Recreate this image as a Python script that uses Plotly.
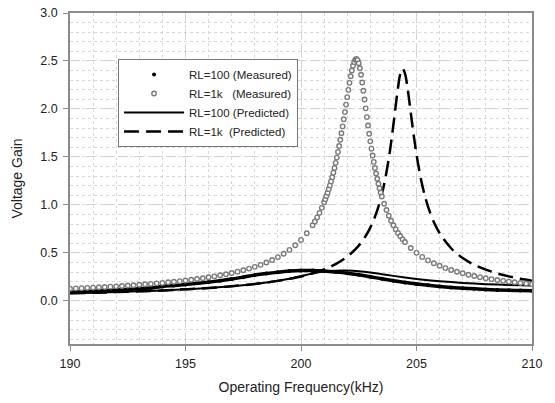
import plotly.graph_objects as go

# ---------------- data ----------------
# RL=1k measured (open gray circles)
f_1k_meas = [190.0, 190.25, 190.5, 190.75, 191.0, 191.25, 191.5, 191.75, 192.0, 192.25,
             192.5, 192.75, 193.0, 193.25, 193.5, 193.75, 194.0, 194.25, 194.5, 194.75,
             195.0, 195.25, 195.5, 195.75, 196.0, 196.25, 196.5, 196.75, 197.0, 197.25,
             197.5, 197.75, 198.0, 198.25, 198.5, 198.75, 199.0, 199.25, 199.5, 199.75,
             200.0, 200.25, 200.5, 200.6, 200.7, 200.8, 200.9, 201.0, 201.05, 201.1,
             201.15, 201.2, 201.25, 201.3, 201.35, 201.4, 201.45, 201.5, 201.55, 201.6,
             201.65, 201.7, 201.75, 201.8, 201.85, 201.9, 201.95, 202.0, 202.05, 202.1,
             202.15, 202.2, 202.25, 202.3, 202.35, 202.4, 202.45, 202.5, 202.55, 202.6,
             202.65, 202.7, 202.75, 202.8, 202.85, 202.9, 202.95, 203.0, 203.05, 203.1,
             203.15, 203.2, 203.25, 203.3, 203.35, 203.4, 203.45, 203.5, 203.6, 203.7,
             203.8, 203.9, 204.0, 204.1, 204.2, 204.3, 204.4, 204.5, 204.75, 205.0,
             205.25, 205.5, 205.75, 206.0, 206.25, 206.5, 206.75, 207.0, 207.25, 207.5,
             207.75, 208.0, 208.25, 208.5, 208.75, 209.0, 209.25, 209.5, 209.75, 210.0]
g_1k_meas = [0.127, 0.130, 0.132, 0.135, 0.138, 0.141, 0.144, 0.148, 0.151, 0.155,
             0.159, 0.163, 0.167, 0.172, 0.177, 0.182, 0.187, 0.193, 0.199, 0.205,
             0.212, 0.219, 0.227, 0.236, 0.245, 0.255, 0.266, 0.277, 0.290, 0.304,
             0.319, 0.336, 0.354, 0.375, 0.399, 0.425, 0.456, 0.491, 0.531, 0.579,
             0.635, 0.704, 0.788, 0.827, 0.870, 0.917, 0.969, 1.027, 1.059, 1.092,
             1.127, 1.164, 1.203, 1.245, 1.289, 1.336, 1.385, 1.438, 1.493, 1.552,
             1.613, 1.679, 1.747, 1.818, 1.892, 1.967, 2.045, 2.123, 2.199, 2.272,
             2.340, 2.400, 2.450, 2.488, 2.512, 2.520, 2.509, 2.476, 2.424, 2.356,
             2.276, 2.189, 2.098, 2.006, 1.915, 1.827, 1.742, 1.662, 1.586, 1.514,
             1.448, 1.385, 1.327, 1.272, 1.221, 1.174, 1.129, 1.088, 1.012, 0.946,
             0.887, 0.834, 0.788, 0.745, 0.707, 0.673, 0.641, 0.613, 0.551, 0.500,
             0.458, 0.422, 0.391, 0.365, 0.341, 0.321, 0.303, 0.287, 0.272, 0.259,
             0.247, 0.236, 0.226, 0.217, 0.208, 0.200, 0.193, 0.186, 0.180, 0.174]

# RL=1k predicted (dashed)
f_1k_pred = [190, 191, 192, 193, 194, 195, 196, 197, 198, 198.5, 199, 199.5, 200, 200.5,
             201, 201.5, 202, 202.5, 202.8, 203.0, 203.2, 203.4, 203.6, 203.8, 203.9,
             204.0, 204.1, 204.2, 204.3, 204.4, 204.5, 204.6, 204.7, 204.8, 204.9,
             205.0, 205.2, 205.4, 205.6, 205.8, 206.0, 206.5, 207, 207.5, 208, 208.5,
             209, 209.5, 210]
g_1k_pred = [0.078, 0.084, 0.091, 0.099, 0.108, 0.120, 0.134, 0.152, 0.175, 0.190,
             0.208, 0.229, 0.254, 0.287, 0.328, 0.383, 0.460, 0.575, 0.676, 0.763,
             0.875, 1.021, 1.216, 1.483, 1.649, 1.835, 2.034, 2.223, 2.366, 2.420,
             2.371, 2.239, 2.061, 1.871, 1.690, 1.527, 1.260, 1.061, 0.911, 0.796,
             0.706, 0.548, 0.446, 0.376, 0.325, 0.286, 0.255, 0.230, 0.210]

# RL=100 measured (black dots)
f_100_meas = [190, 190.5, 191, 191.5, 192, 192.5, 193, 193.5, 194, 194.5, 195, 195.5,
              196, 196.5, 197, 197.5, 198, 198.5, 199, 199.5, 200, 200.5, 201, 201.5,
              202, 202.5, 203, 203.5, 204, 204.5, 205, 205.5, 206, 206.5, 207, 207.5,
              208, 208.5, 209, 209.5, 210]
g_100_meas = [0.090, 0.095, 0.100, 0.106, 0.112, 0.119, 0.126, 0.134, 0.150, 0.160,
              0.170, 0.182, 0.195, 0.210, 0.227, 0.247, 0.268, 0.285, 0.299, 0.310,
              0.316, 0.316, 0.310, 0.300, 0.288, 0.271, 0.250, 0.230, 0.210, 0.190,
              0.175, 0.162, 0.150, 0.140, 0.132, 0.125, 0.119, 0.114, 0.110, 0.107,
              0.104]

# RL=100 predicted (solid)
f_100_pred = [190, 191, 192, 193, 194, 195, 196, 197, 198, 198.5, 199, 199.5, 200, 200.5,
              201, 201.5, 202, 202.5, 203, 203.5, 204, 204.5, 205, 205.5, 206, 206.5,
              207, 207.5, 208, 208.5, 209, 209.5, 210]
g_100_pred = [0.078, 0.084, 0.091, 0.099, 0.108, 0.120, 0.134, 0.152, 0.176, 0.191,
              0.209, 0.231, 0.257, 0.285, 0.305, 0.314, 0.315, 0.308, 0.295, 0.278,
              0.260, 0.243, 0.228, 0.215, 0.204, 0.195, 0.187, 0.180, 0.174, 0.169,
              0.165, 0.162, 0.160]

legend_names = ["RL=100 (Measured)", "RL=1k\u00a0\u00a0\u00a0(Measured)",
                "RL=100 (Predicted)", "RL=1k\u00a0\u00a0(Predicted)"]
x_ticks = [190, 195, 200, 205, 210]
y_ticks = [0.0, 0.5, 1.0, 1.5, 2.0, 2.5, 3.0]

# ---------------- figure ----------------
FONT = "Arial, 'Liberation Sans', sans-serif"
fig = go.Figure()

# measured RL=100 body (thick band of dense dots)
fig.add_trace(go.Scatter(x=f_100_meas, y=g_100_meas, mode="lines",
                         line=dict(color="black", width=3.5, shape="spline"),
                         showlegend=False, hoverinfo="skip"))
fig.add_trace(go.Scatter(x=f_100_meas, y=g_100_meas, mode="markers", name=legend_names[0],
                         marker=dict(color="black", size=4, symbol="circle")))
fig.add_trace(go.Scatter(x=f_100_pred, y=g_100_pred, mode="lines", name=legend_names[2],
                         line=dict(color="black", width=2, shape="spline")))
fig.add_trace(go.Scatter(x=f_1k_pred, y=g_1k_pred, mode="lines", name=legend_names[3],
                         line=dict(color="black", width=2.5, dash="15px,7px", shape="spline")))
fig.add_trace(go.Scatter(x=f_1k_meas, y=g_1k_meas, mode="markers", name=legend_names[1],
                         marker=dict(color="white", size=4.5, symbol="circle",
                                     line=dict(color="#7a7a7a", width=1.4))))

grid_major = "#d2d2d2"
grid_minor = "#d8d8d8"
fig.update_xaxes(range=[190, 210], tickvals=x_ticks, ticktext=[str(v) for v in x_ticks],
                 automargin=False,
                 showline=True, linecolor="#8c8c8c", linewidth=1.5, mirror=True,
                 ticks="outside", ticklen=5, tickcolor="#8c8c8c", tickwidth=1,
                 ticklabelstandoff=2,
                 showgrid=True, gridcolor=grid_major, gridwidth=1.2, griddash="10px,6px",
                 minor=dict(dtick=1, tick0=190, showgrid=True, gridcolor=grid_minor,
                            griddash="dot", gridwidth=1),
                 zeroline=False,
                 title=dict(text="Operating Frequency(kHz)", font=dict(size=14, color="#222"),
                            standoff=12),
                 tickfont=dict(size=12.5, color="#222"))
fig.update_yaxes(range=[-0.45, 3.0], tickvals=y_ticks, ticktext=[f"{v:.1f}" for v in y_ticks],
                 automargin=False,
                 showline=True, linecolor="#8c8c8c", linewidth=1.5, mirror=True,
                 ticks="outside", ticklen=5, tickcolor="#8c8c8c", tickwidth=1,
                 ticklabelstandoff=3,
                 showgrid=True, gridcolor=grid_major, gridwidth=1.2, griddash="10px,6px",
                 minor=dict(dtick=0.1, tick0=0, showgrid=True, gridcolor=grid_minor,
                            griddash="dot", gridwidth=1),
                 zeroline=False,
                 title=dict(text="Voltage Gain", font=dict(size=14, color="#222"), standoff=14),
                 tickfont=dict(size=12.5, color="#222"))

fig.update_layout(
    width=555, height=403,
    margin=dict(l=70, r=23, t=13, b=59),
    paper_bgcolor="white", plot_bgcolor="white",
    font=dict(family=FONT, size=12, color="#222"),
    legend=dict(x=0.104, y=0.861, xanchor="left", yanchor="top",
                bgcolor="white", bordercolor="#777", borderwidth=1,
                itemwidth=60, tracegroupgap=0, traceorder="normal",
                font=dict(size=11.5, color="#222")),
)

# legend order: measured 100, measured 1k, predicted 100, predicted 1k
fig.data[1].legendrank = 1
fig.data[4].legendrank = 2
fig.data[2].legendrank = 3
fig.data[3].legendrank = 4

fig.write_html("out.html")
